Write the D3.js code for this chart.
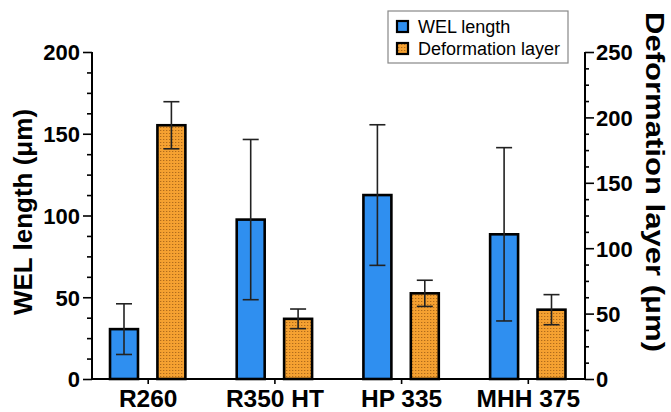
<!DOCTYPE html>
<html>
<head>
<meta charset="utf-8">
<script src="https://cdn.jsdelivr.net/npm/d3@7"></script>
<style>
  body { margin: 0; background: #fff; }
  svg, svg text { font-family: "Liberation Sans", Arial, Helvetica, sans-serif; }
</style>
</head>
<body>
<svg width="671" height="412"></svg>
<script>
const categories = ["R260", "R350 HT", "HP 335", "MHH 375"];
const welMean = [30.5, 97.5, 112.5, 88.5];
const welSd = [15.5, 49, 43, 53];
const defMean = [194, 46, 65.5, 53];
const defSd = [18, 7.5, 10, 11.5];
const leftTicks = [0, 50, 100, 150, 200];
const rightTicks = [0, 50, 100, 150, 200, 250];

const series = [
  { key: "wel", name: "WEL length", mean: welMean, sd: welSd, axis: "left" },
  { key: "def", name: "Deformation layer", mean: defMean, sd: defSd, axis: "right" }
];

const FONT = '"Liberation Sans", Arial, Helvetica, sans-serif';
const svg = d3.select("svg");
const x0 = 92, x1 = 585, yTop = 52, yBase = 379;

const yLeft = d3.scaleLinear().domain([0, 200]).range([yBase, yTop]);
const yRight = d3.scaleLinear().domain([0, 250]).range([yBase, yTop]);
const x = d3.scalePoint().domain(categories).range([147.7, 527.8]);
const xSub = d3.scaleBand().domain(series.map(s => s.key))
  .range([-47.4, 47.4]).paddingInner(0.41).paddingOuter(0.205);

// dotted fill for the orange bars
const defs = svg.append("defs");
const pat = defs.append("pattern")
  .attr("id", "dots")
  .attr("patternUnits", "userSpaceOnUse")
  .attr("width", 3).attr("height", 3);
pat.append("rect").attr("width", 3).attr("height", 3).attr("fill", "#f5a131");
pat.append("rect").attr("x", 1).attr("y", 1).attr("width", 1.3).attr("height", 1)
  .attr("fill", "#8a4f10").attr("opacity", 0.65);

const fills = { wel: "#2f8ff0", def: "url(#dots)" };

// bars
series.forEach(s => {
  const y = s.axis === "left" ? yLeft : yRight;
  const g = svg.append("g");
  g.selectAll("rect")
    .data(categories)
    .enter().append("rect")
    .attr("x", (c) => x(c) + xSub(s.key))
    .attr("y", (c, i) => y(s.mean[i]))
    .attr("width", xSub.bandwidth())
    .attr("height", (c, i) => yBase - y(s.mean[i]))
    .attr("fill", fills[s.key])
    .attr("stroke", "#000")
    .attr("stroke-width", 2.6);

  // error bars
  const eb = svg.append("g").attr("stroke", "#222").attr("stroke-width", 1.6);
  categories.forEach((c, i) => {
    const cx = x(c) + xSub(s.key) + xSub.bandwidth() / 2;
    const hi = y(s.mean[i] + s.sd[i]);
    const lo = y(s.mean[i] - s.sd[i]);
    eb.append("line").attr("x1", cx).attr("x2", cx).attr("y1", hi).attr("y2", lo);
    eb.append("line").attr("x1", cx - 8).attr("x2", cx + 8).attr("y1", hi).attr("y2", hi);
    eb.append("line").attr("x1", cx - 8).attr("x2", cx + 8).attr("y1", lo).attr("y2", lo);
  });
});

// left axis
const leftAxis = svg.append("g").attr("transform", `translate(${x0},0)`)
  .call(d3.axisLeft(yLeft).tickValues(d3.range(0, 200.1, 12.5)).tickSize(5).tickFormat(""));
leftAxis.selectAll(".tick line").filter(d => leftTicks.includes(d)).attr("x2", -9);
leftAxis.selectAll(".tick").filter(d => leftTicks.includes(d)).append("text")
  .attr("x", -12).attr("dy", "0.36em").attr("fill", "#000")
  .attr("text-anchor", "end")
  .style("font-size", "22px").style("font-weight", "bold")
  .text(d => d);

// right axis
const rightAxis = svg.append("g").attr("transform", `translate(${x1},0)`)
  .call(d3.axisRight(yRight).tickValues(d3.range(0, 250.1, 12.5)).tickSize(4).tickFormat(""));
rightAxis.selectAll(".tick line").filter(d => rightTicks.includes(d)).attr("x2", 9);
rightAxis.selectAll(".tick").filter(d => rightTicks.includes(d)).append("text")
  .attr("x", 11).attr("dy", "0.36em").attr("fill", "#000")
  .attr("text-anchor", "start")
  .style("font-size", "22px").style("font-weight", "bold")
  .text(d => d);

[leftAxis, rightAxis].forEach(a => {
  a.select(".domain").attr("stroke-width", 2).attr("d", `M0,${yTop}V${yBase}`);
  a.selectAll(".tick line").attr("stroke-width", 1.6);
});

// bottom axis
const bottom = svg.append("g").attr("transform", `translate(0,${yBase})`)
  .call(d3.axisBottom(x).tickSize(5).tickPadding(10));
bottom.select(".domain").attr("d", `M${x0 - 1},0H${x1 + 1}`).attr("stroke-width", 2);
bottom.selectAll(".tick line").attr("stroke-width", 1.6);
bottom.selectAll(".tick text")
  .attr("fill", "#000").attr("y", 0).attr("dy", 28)
  .style("font-size", "24.5px").style("font-weight", "bold");

svg.selectAll("g").attr("font-family", FONT);

// axis titles
svg.append("text")
  .attr("transform", `translate(32,212) rotate(-90)`)
  .attr("text-anchor", "middle")
  .style("font-size", "26px").style("font-weight", "bold")
  .text("WEL length (μm)");

svg.append("text")
  .attr("transform", `translate(646,182) rotate(90)`)
  .attr("text-anchor", "middle")
  .attr("textLength", 340).attr("lengthAdjust", "spacingAndGlyphs")
  .style("font-size", "26px").style("font-weight", "bold")
  .text("Deformation layer (μm)");

// legend
const legend = svg.append("g").attr("transform", "translate(388,11)");
legend.append("rect")
  .attr("width", 180).attr("height", 52)
  .attr("fill", "#fff").attr("stroke", "#888").attr("stroke-width", 1.2);
series.forEach((s, i) => {
  const row = legend.append("g").attr("transform", `translate(9,${10 + i * 22})`);
  row.append("rect").attr("width", 11).attr("height", 11)
    .attr("fill", fills[s.key]).attr("stroke", "#000").attr("stroke-width", 2.2);
  row.append("text").attr("x", 21).attr("y", 12)
    .style("font-size", "18px").text(s.name);
});
</script>
</body>
</html>
